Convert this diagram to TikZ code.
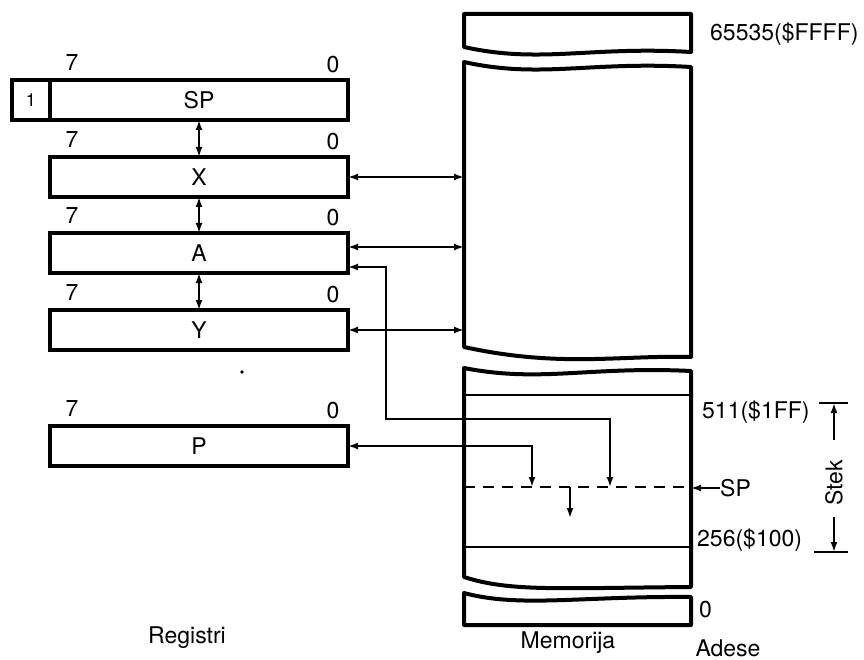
\documentclass[tikz,border=0pt]{standalone}
\usepackage{fontspec}
\setmainfont{TeX Gyre Heros}
\usetikzlibrary{positioning, arrows.meta, calc}

\begin{document}
\begin{tikzpicture}[
        x=1pt, y=-1pt,
        font=\fontsize{23}{26}\selectfont,
        reg/.style={draw, rectangle, line width=4pt, minimum width=298pt, minimum height=40pt, inner sep=0pt, outer sep=0pt},
        bit/.style={inner sep=0pt},
        mem/.style={line width=4pt, line join=round},
        cell/.style={line width=2pt},
        link/.style={line width=1.8pt, >={Latex[length=10pt,width=7pt]}},
        lbl/.style={anchor=west, inner sep=0pt}
    ]
    \useasboundingbox (0,0) rectangle (864,660);

    % registers
    \node[reg] (SP) at (199,100) {SP};
    \node[reg, minimum width=38pt, font=\fontsize{18}{20}\selectfont, left=0pt of SP] (One) {1};
    \node[reg, below=37pt of SP] (X) {X};
    \node[reg, below=36pt of X] (A) {A};
    \node[reg, below=37pt of A] (Y) {Y};
    \node[reg, below=76pt of Y] (P) {P};

    \node[bit] (SP7) at ($(SP.north west)+(22,-17)$) {7};
    \node[bit] (SP0) at ($(SP.north east)+(-15,-15)$) {0};
    \node[bit] (X7) at ($(X.north west)+(22,-17)$) {7};
    \node[bit] (X0) at ($(X.north east)+(-15,-15)$) {0};
    \node[bit] (A7) at ($(A.north west)+(22,-17)$) {7};
    \node[bit] (A0) at ($(A.north east)+(-15,-15)$) {0};
    \node[bit] (Y7) at ($(Y.north west)+(22,-17)$) {7};
    \node[bit] (Y0) at ($(Y.north east)+(-15,-15)$) {0};
    \node[bit] (P7) at ($(P.north west)+(22,-17)$) {7};
    \node[bit] (P0) at ($(P.north east)+(-15,-15)$) {0};

    \fill (242,372) circle (1.8pt);

    % memory
    \draw[mem] (464,47) -- (464,14) -- (691,14) -- (691,52) .. controls (590,46) and (540,64) .. (464,47) -- cycle;
    \draw[mem] (464,62) .. controls (540,79) and (590,61) .. (691,67) -- (691,357) .. controls (620,355) and (560,368) .. (464,347) -- cycle;
    \draw[mem] (464,368) .. controls (540,383) and (590,366) .. (691,371) -- (691,587) .. controls (560,588) and (510,592) .. (464,577) -- cycle;
    \draw[mem] (464,593) .. controls (520,608) and (580,596) .. (691,597) -- (691,625) -- (464,625) -- cycle;

    \draw[cell] (464,395) -- (691,395);
    \draw[cell] (464,547) -- (691,547);
    \draw[cell, line width=2.6pt, dash pattern=on 11pt off 8pt] (464,487) -- (691,487);

    \coordinate (memL) at (464,0);
    \coordinate (memR) at (691,0);
    \coordinate (Aup) at ($(A.east)+(0,-6)$);
    \coordinate (Adn) at ($(A.east)+(0,14)$);
    \coordinate (spA) at (610,487);
    \coordinate (spP) at (532,487);
    \coordinate (spD) at (570,487);
    \coordinate (spE) at (570,518);

    % connectors
    \draw[link,<->] (SP) -- (X);
    \draw[link,<->] (X) -- (A);
    \draw[link,<->] (A) -- (Y);
    \draw[link,<->] (X.east) -- (X.east -| memL);
    \draw[link,<->] (Aup) -- (Aup -| memL);
    \draw[link,<->] (Y.east) -- (Y.east -| memL);
    \draw[link,<->] (Adn) -| (386,419) -| (spA);
    \draw[link,<->] (P.east) -| (spP);
    \draw[link,->] (spD) -- (spE);

    % addresses
    \node[lbl] (Top) at (710,34) {65535(\$FFFF)};
    \node[lbl] (Hi) at (702,412) {511(\$1FF)};
    \node[lbl] (SPlbl) at (720,488) {SP};
    \node[lbl] (Lo) at (697,540) {256(\$100)};
    \node[lbl] (Zero) at (699,610) {0};
    \draw[link,->] (SPlbl.west) -- (SPlbl.west -| memR);

    \node[rotate=90, inner sep=0pt] (Stek) at (834,483) {Stek};
    \coordinate (stekT) at (834,403);
    \coordinate (stekB) at (834,552);
    \draw[link,->] ([yshift=20pt]Stek.east) -- (stekT);
    \draw[link,->] ([yshift=-11pt]Stek.west) -- (stekB);
    \draw[link, line width=2.8pt] ($(stekT)+(-15,0)$) -- ($(stekT)+(14,0)$);
    \draw[link, line width=2.8pt] ($(stekB)+(-20,0)$) -- ($(stekB)+(14,0)$);

    \node (Registri) at (187,638) {Registri};
    \node (Memorija) at (568,643) {Memorija};
    \node (Adese) at (728,648) {Adese};

\end{tikzpicture}
\end{document}
